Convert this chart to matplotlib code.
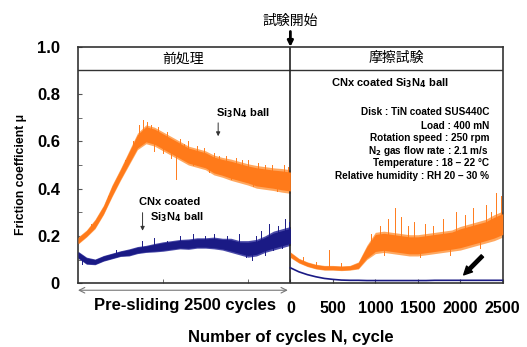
import numpy as np
import matplotlib.pyplot as plt

plt.rcParams['font.family'] = ['Liberation Sans', 'Noto Sans CJK JP', 'DejaVu Sans']
plt.rcParams['mathtext.default'] = 'bf'

# cycles, step 100 (pre-sliding is plotted as -2500..0)
pre_x = np.arange(-2500, 1, 100)
test_x = np.arange(0, 2501, 100)

# Si3N4 ball, pre-sliding (centre and half-width of noisy band)
pre_si = [0.18, 0.21, 0.25, 0.31, 0.39, 0.46, 0.53, 0.60, 0.63, 0.62, 0.60, 0.58, 0.56,
          0.54, 0.53, 0.52, 0.50, 0.49, 0.48, 0.47, 0.46, 0.45, 0.445, 0.44, 0.435, 0.43]
pre_si_w = [0.015, 0.015, 0.02, 0.02, 0.025, 0.025, 0.03, 0.035, 0.04, 0.04, 0.04, 0.04, 0.04,
            0.04, 0.04, 0.04, 0.042, 0.042, 0.045, 0.045, 0.045, 0.048, 0.048, 0.048, 0.05, 0.05]
# CNx coated ball, pre-sliding
pre_cn = [0.12, 0.095, 0.09, 0.105, 0.115, 0.125, 0.13, 0.14, 0.145, 0.15, 0.155, 0.16, 0.165,
          0.165, 0.17, 0.17, 0.17, 0.165, 0.16, 0.15, 0.145, 0.15, 0.165, 0.18, 0.19, 0.20]
pre_cn_w = [0.015, 0.015, 0.012, 0.012, 0.012, 0.012, 0.015, 0.015, 0.015, 0.018, 0.02, 0.02, 0.02,
            0.022, 0.022, 0.022, 0.025, 0.025, 0.03, 0.03, 0.035, 0.035, 0.035, 0.04, 0.04, 0.04]

# friction test
test_or = [0.12, 0.095, 0.08, 0.07, 0.065, 0.065, 0.063, 0.065, 0.075, 0.13, 0.17, 0.175, 0.17,
           0.165, 0.16, 0.16, 0.165, 0.17, 0.175, 0.18, 0.19, 0.20, 0.21, 0.22, 0.235, 0.25]
test_or_w = [0.012, 0.01, 0.01, 0.01, 0.01, 0.01, 0.01, 0.01, 0.015, 0.03, 0.045, 0.045, 0.045,
             0.045, 0.045, 0.045, 0.045, 0.045, 0.045, 0.045, 0.05, 0.05, 0.05, 0.05, 0.055, 0.055]
test_cn = [0.065, 0.048, 0.036, 0.027, 0.02, 0.016, 0.013, 0.012, 0.012, 0.011, 0.011, 0.011, 0.011,
           0.011, 0.011, 0.011, 0.011, 0.012, 0.012, 0.012, 0.012, 0.012, 0.012, 0.012, 0.012, 0.012]

# spikes (cycle, peak value)
spk_pre_si = [(-2350, 0.25), (-2150, 0.37), (-1950, 0.52), (-1850, 0.60), (-1780, 0.67), (-1730, 0.69),
              (-1690, 0.68), (-1640, 0.67), (-1600, 0.56), (-1560, 0.66), (-1500, 0.55), (-1450, 0.64),
              (-1400, 0.53), (-1350, 0.44), (-1300, 0.61), (-1250, 0.59), (-1200, 0.60), (-1150, 0.50),
              (-1100, 0.58), (-1020, 0.57), (-960, 0.47), (-900, 0.55), (-840, 0.54), (-760, 0.54),
              (-700, 0.44), (-640, 0.53), (-570, 0.52), (-500, 0.52), (-440, 0.41), (-380, 0.51),
              (-300, 0.50), (-220, 0.50), (-160, 0.39), (-80, 0.50), (-30, 0.49)]
spk_pre_cn = [(-2450, 0.08), (-2050, 0.14), (-1750, 0.18), (-1600, 0.19), (-1450, 0.18), (-1300, 0.20),
              (-1150, 0.21), (-1000, 0.20), (-900, 0.21), (-750, 0.20), (-600, 0.21), (-520, 0.11),
              (-450, 0.10), (-400, 0.20), (-350, 0.22), (-300, 0.12), (-250, 0.25), (-200, 0.14),
              (-150, 0.24), (-100, 0.15), (-60, 0.27), (-20, 0.26)]
spk_test = [(150, 0.11), (300, 0.09), (450, 0.14), (600, 0.085), (950, 0.21), (1050, 0.24),
            (1100, 0.12), (1150, 0.27), (1230, 0.32), (1300, 0.28), (1380, 0.24), (1450, 0.26),
            (1520, 0.11), (1580, 0.25), (1680, 0.24), (1800, 0.27), (1880, 0.12), (1950, 0.30),
            (2050, 0.29), (2150, 0.32), (2230, 0.15), (2300, 0.33), (2360, 0.30), (2420, 0.38),
            (2480, 0.37)]

orange = '#ff7a1a'
orange_l = '#ffa860'
navy = '#1a1a85'

fig = plt.figure(figsize=(5.27, 3.47), dpi=100)
ax = fig.add_axes([0.148, 0.184, 0.806, 0.681])


def band(x, c, w, col, lcol):
    c = np.array(c)
    w = np.array(w)
    ax.fill_between(x, c - w, c + w, color=lcol, lw=0, zorder=2)
    ax.fill_between(x, c - 0.8 * w, c + 0.8 * w, color=col, lw=0, zorder=3)


band(pre_x, pre_si, pre_si_w, orange, orange_l)
band(pre_x, pre_cn, pre_cn_w, navy, '#4a4aa8')
band(test_x, test_or, test_or_w, orange, orange_l)
ax.plot(test_x, test_cn, color=navy, lw=1.2, zorder=4)

for pts, base, xs, col in [(spk_pre_si, pre_si, pre_x, orange),
                           (spk_pre_cn, pre_cn, pre_x, navy),
                           (spk_test, test_or, test_x, orange)]:
    for sx, sy in pts:
        b = np.interp(sx, xs, base)
        ax.plot([sx, sx], [b, sy], color=col, lw=0.7, zorder=3)

ax.set_xlim(-2500, 2500)
ax.set_ylim(0, 1.0)

# header band and divider
ax.axhline(0.902, color='#333333', lw=1.0)
ax.axvline(0, color='#222222', lw=1.2)
for s in ax.spines.values():
    s.set_color('#333333')
    s.set_linewidth(1.2)

ax.set_yticks([0, 0.2, 0.4, 0.6, 0.8, 1.0])
ax.set_yticklabels(['0', '0.2', '0.4', '0.6', '0.8', '1.0'], fontsize=12, fontweight='bold')
ax.set_yticks(np.arange(0, 0.91, 0.1), minor=True)
ax.set_xticks([0, 500, 1000, 1500, 2000, 2500])
ax.set_xticklabels(['0', '500', '1000', '1500', '2000', '2500'], fontsize=11.5, fontweight='bold')
ax.set_xticks([-1500, -500], minor=True)
ax.tick_params(axis='y', which='both', direction='in', length=3, pad=13, color='#555555')
ax.tick_params(axis='x', which='both', direction='in', length=3, pad=13, color='#555555')

fig.text(0.04, 0.496, 'Friction coefficient μ', fontsize=8.8, fontweight='bold',
         rotation=90, ha='center', va='center')
ax.set_xlabel('Number of cycles N, cycle', fontsize=12, fontweight='bold', labelpad=10)

ax.text(-1240, -0.095, 'Pre-sliding 2500 cycles', fontsize=12, fontweight='bold',
        ha='center', va='center', clip_on=False)
ax.annotate('', xy=(-2500, -0.03), xytext=(-30, -0.03), annotation_clip=False,
            arrowprops=dict(arrowstyle='<->', color='#777777', lw=0.8, shrinkA=0, shrinkB=0))

# headers
ax.text(-1260, 0.951, '前処理', fontsize=10, ha='center', va='center',
        family=['Noto Sans CJK JP', 'DejaVu Sans'])
ax.text(1250, 0.951, '摩擦試験', fontsize=10, ha='center', va='center',
        family=['Noto Sans CJK JP', 'DejaVu Sans'])
ax.text(0, 1.11, '試験開始', fontsize=10, ha='center', va='center', clip_on=False,
        family=['Noto Sans CJK JP', 'DejaVu Sans'])
ax.annotate('', xy=(0, 1.0), xytext=(0, 1.065), annotation_clip=False,
            arrowprops=dict(arrowstyle='-|>', color='black', lw=2, mutation_scale=8,
                            shrinkA=0, shrinkB=0))

# right panel text
ax.text(1170, 0.848, 'CNx coated Si$_3$N$_4$ ball', fontsize=8, fontweight='bold',
        ha='center', va='center')
cond = ['Disk : TiN coated SUS440C', 'Load : 400 mN', 'Rotation speed : 250 rpm',
        'N$_2$ gas flow rate : 2.1 m/s', 'Temperature : 18 – 22 °C',
        'Relative humidity : RH 20 – 30 %']
cy = [0.725, 0.667, 0.614, 0.559, 0.508, 0.453]
for t, y in zip(cond, cy):
    ax.text(2340, y, t, fontsize=7.2, fontweight='bold', ha='right', va='center')

# left panel annotations
ax.text(-880, 0.72, 'Si$_3$N$_4$ ball', fontsize=8, fontweight='bold', ha='left', va='center')
ax.annotate('', xy=(-850, 0.61), xytext=(-850, 0.69),
            arrowprops=dict(arrowstyle='-|>', color='#333333', lw=0.7, mutation_scale=6))
ax.text(-1780, 0.345, 'CNx coated', fontsize=8, fontweight='bold', ha='left', va='center')
ax.text(-1650, 0.28, 'Si$_3$N$_4$ ball', fontsize=8, fontweight='bold', ha='left', va='center')
ax.annotate('', xy=(-1740, 0.21), xytext=(-1740, 0.31),
            arrowprops=dict(arrowstyle='-|>', color='#333333', lw=0.7, mutation_scale=6))

ax.annotate('', xy=(2040, 0.035), xytext=(2260, 0.115),
            arrowprops=dict(arrowstyle='simple', color='black', mutation_scale=12, shrinkA=0, shrinkB=0))

fig.savefig('out.png', dpi=100)
